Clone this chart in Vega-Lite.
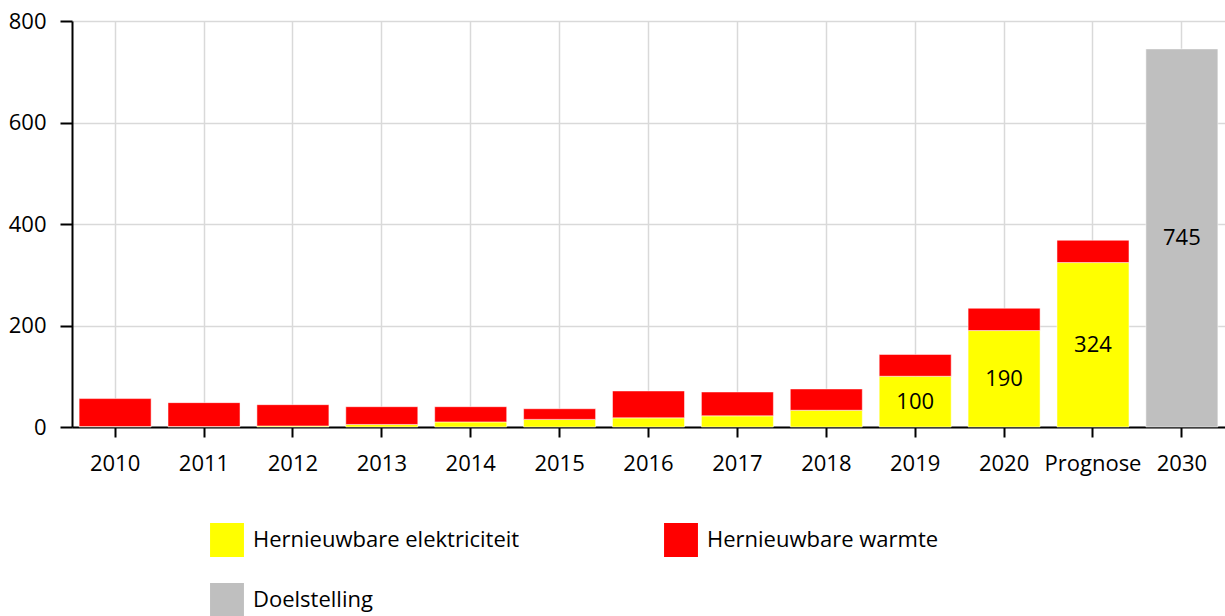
{
  "$schema": "https://vega.github.io/schema/vega-lite/v6.json",
  "width": 1153,
  "height": 406,
  "autosize": {"type": "none"},
  "padding": {"left": 72, "top": 21, "right": 0, "bottom": 189},
  "background": "white",
  "config": {
    "font": "Open Sans",
    "view": {"stroke": null},
    "axis": {"labelFont": "Open Sans", "labelFontSize": 22, "labelColor": "#000000", "gridColor": "#d9d9d9", "gridWidth": 1.5, "domainColor": "#000000", "domainWidth": 2, "tickColor": "#000000", "tickWidth": 2, "title": null}
  },
  "data": {
    "values": [
      {"jaar": "2010", "reeks": "Hernieuwbare elektriciteit", "waarde": 1, "label": null},
      {"jaar": "2010", "reeks": "Hernieuwbare warmte", "waarde": 55, "label": null},
      {"jaar": "2011", "reeks": "Hernieuwbare elektriciteit", "waarde": 1, "label": null},
      {"jaar": "2011", "reeks": "Hernieuwbare warmte", "waarde": 47, "label": null},
      {"jaar": "2012", "reeks": "Hernieuwbare elektriciteit", "waarde": 2, "label": null},
      {"jaar": "2012", "reeks": "Hernieuwbare warmte", "waarde": 42, "label": null},
      {"jaar": "2013", "reeks": "Hernieuwbare elektriciteit", "waarde": 5, "label": null},
      {"jaar": "2013", "reeks": "Hernieuwbare warmte", "waarde": 35, "label": null},
      {"jaar": "2014", "reeks": "Hernieuwbare elektriciteit", "waarde": 10, "label": null},
      {"jaar": "2014", "reeks": "Hernieuwbare warmte", "waarde": 30, "label": null},
      {"jaar": "2015", "reeks": "Hernieuwbare elektriciteit", "waarde": 15, "label": null},
      {"jaar": "2015", "reeks": "Hernieuwbare warmte", "waarde": 21, "label": null},
      {"jaar": "2016", "reeks": "Hernieuwbare elektriciteit", "waarde": 18, "label": null},
      {"jaar": "2016", "reeks": "Hernieuwbare warmte", "waarde": 53, "label": null},
      {"jaar": "2017", "reeks": "Hernieuwbare elektriciteit", "waarde": 22, "label": null},
      {"jaar": "2017", "reeks": "Hernieuwbare warmte", "waarde": 47, "label": null},
      {"jaar": "2018", "reeks": "Hernieuwbare elektriciteit", "waarde": 33, "label": null},
      {"jaar": "2018", "reeks": "Hernieuwbare warmte", "waarde": 42, "label": null},
      {"jaar": "2019", "reeks": "Hernieuwbare elektriciteit", "waarde": 100, "label": "100"},
      {"jaar": "2019", "reeks": "Hernieuwbare warmte", "waarde": 43, "label": null},
      {"jaar": "2020", "reeks": "Hernieuwbare elektriciteit", "waarde": 190, "label": "190"},
      {"jaar": "2020", "reeks": "Hernieuwbare warmte", "waarde": 44, "label": null},
      {"jaar": "Prognose", "reeks": "Hernieuwbare elektriciteit", "waarde": 324, "label": "324"},
      {"jaar": "Prognose", "reeks": "Hernieuwbare warmte", "waarde": 44, "label": null},
      {"jaar": "2030", "reeks": "Doelstelling", "waarde": 745, "label": "745"}
    ]
  },
  "encoding": {
    "x": {
      "field": "jaar", "type": "nominal", "sort": null,
      "scale": {"paddingInner": 0.19, "paddingOuter": 0.08},
      "axis": {"labelAngle": 0, "labelPadding": 16, "tickSize": 10, "grid": true}
    }
  },
  "layer": [
    {
      "mark": {"type": "bar", "stroke": "#ffffff", "strokeOpacity": 0.5, "strokeWidth": 1},
      "encoding": {
        "y": {
          "field": "waarde", "type": "quantitative", "stack": "zero",
          "scale": {"domain": [0, 800]},
          "axis": {"values": [0, 200, 400, 600, 800], "tickSize": 12, "labelPadding": 14, "grid": true}
        },
        "color": {
          "field": "reeks", "type": "nominal",
          "scale": {
            "domain": ["Hernieuwbare elektriciteit", "Hernieuwbare warmte", "Doelstelling"],
            "range": ["#ffff00", "#ff0000", "#bfbfbf"]
          },
          "legend": {
            "title": null, "orient": "none", "legendX": 138, "legendY": 502,
            "columns": 2, "direction": "horizontal",
            "symbolType": "square", "symbolSize": 1150, "symbolStrokeWidth": 0,
            "labelFont": "Open Sans", "labelFontSize": 22, "labelColor": "#000000",
            "labelOffset": 9, "columnPadding": 144, "rowPadding": 26, "labelLimit": 400
          }
        },
        "order": {"field": "reeks", "sort": "ascending"}
      }
    },
    {
      "transform": [
        {"filter": "datum.label != null"},
        {"calculate": "datum.waarde / 2", "as": "midden"}
      ],
      "mark": {"type": "text", "font": "Open Sans", "fontSize": 22, "color": "#000000", "baseline": "middle"},
      "encoding": {
        "y": {"field": "midden", "type": "quantitative"},
        "text": {"field": "label"}
      }
    }
  ]
}
